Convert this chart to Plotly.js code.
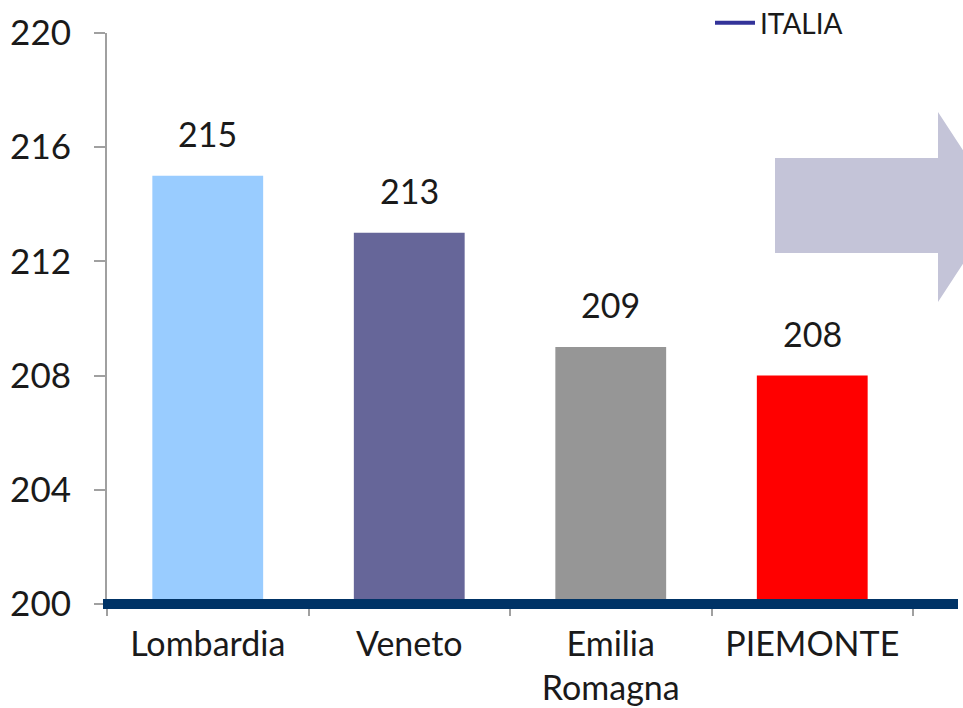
<!DOCTYPE html>
<html>
<head>
<meta charset="utf-8">
<script src="https://cdn.plot.ly/plotly-3.0.1.min.js"></script>
<style>html,body{margin:0;padding:0;background:#fff;}#chart{width:963px;height:708px;}</style>
</head>
<body>
<div id="chart"></div>
<script>
// ---- data ----
const regions = ["Lombardia", "Veneto", "Emilia<br>Romagna", "PIEMONTE"];
const values = [215, 213, 209, 208];
const barColors = ["#99ccff", "#666699", "#969696", "#ff0000"];
const italiaName = "ITALIA";
const italiaValue = 200;
const yRange = [200, 220];
const yTicks = [200, 204, 208, 212, 216, 220];

// ---- layout helpers (pixel -> paper) ----
const L = 107, R = 50, T = 33, B = 104, W = 963, H = 708;
const pw = W - L - R, ph = H - T - B;
const px = x => (x - L) / pw;
const py = y => (H - B - y) / ph;

const FONT = "Lato, 'DejaVu Sans', sans-serif";

const barTrace = {
  type: "bar",
  x: regions,
  y: values.map(v => v - yRange[0]),
  base: yRange[0],
  marker: {color: barColors, line: {width: 0}},
  showlegend: false,
  hoverinfo: "skip"
};

const italiaTrace = {
  type: "scatter",
  mode: "lines",
  name: italiaName,
  x: regions,
  y: regions.map(() => italiaValue),
  line: {color: "#333399", width: 4},
  showlegend: true,
  hoverinfo: "skip"
};

const annotations = regions.map((r, i) => ({
  x: r, y: values[i], xref: "x", yref: "y",
  text: String(values[i]), showarrow: false,
  yanchor: "bottom", yshift: 20,
  font: {family: FONT, size: 34, color: "#1a1a1a"}
}));

// arrow polygon (decorative)
const ax0 = px(775), ax1 = px(938), axTip = px(1000);
const ayT = py(158), ayB = py(253), ahT = py(112), ahB = py(302), ayM = py(207);
const arrowPath = `M ${ax0} ${ayT} L ${ax1} ${ayT} L ${ax1} ${ahT} L ${axTip} ${ayM} L ${ax1} ${ahB} L ${ax1} ${ayB} L ${ax0} ${ayB} Z`;

// ITALIA level expressed in the y axis domain (so the thick line is not clipped)
const italiaDomain = (italiaValue - yRange[0]) / (yRange[1] - yRange[0]);

const layout = {
  width: W, height: H,
  margin: {l: L, r: R, t: T, b: B, pad: 0, autoexpand: false},
  paper_bgcolor: "#ffffff",
  plot_bgcolor: "#ffffff",
  font: {family: FONT, size: 33, color: "#1a1a1a"},
  bargap: 0.45,
  showlegend: true,
  legend: {
    x: px(710), y: py(-2), xanchor: "left", yanchor: "top",
    bgcolor: "rgba(0,0,0,0)",
    font: {family: FONT, size: 28, color: "#1a1a1a"},
    itemwidth: 40
  },
  xaxis: {
    type: "category",
    tickson: "boundaries",
    ticks: "outside", ticklen: 11, tickcolor: "#a0a0a0", tickwidth: 2,
    showline: false, showgrid: false, zeroline: false,
    ticklabelstandoff: 17,
    tickfont: {family: FONT, size: 34, color: "#1a1a1a"},
    fixedrange: true
  },
  yaxis: {
    range: yRange,
    tickvals: yTicks,
    ticktext: yTicks.map(String),
    ticks: "outside", ticklen: 11, tickcolor: "#a0a0a0", tickwidth: 2,
    showline: true, linecolor: "#a0a0a0", linewidth: 2,
    showgrid: false, zeroline: false,
    ticklabelstandoff: 16,
    tickfont: {family: FONT, size: 35, color: "#1a1a1a"},
    fixedrange: true
  },
  annotations: annotations,
  shapes: [
    {type: "path", xref: "paper", yref: "paper", path: arrowPath,
     fillcolor: "#c4c4d8", line: {width: 0}, layer: "below"},
    {type: "line", xref: "paper", yref: "y domain", x0: px(103), x1: px(958),
     y0: italiaDomain, y1: italiaDomain,
     line: {color: "#003366", width: 10}, layer: "above"}
  ]
};

Plotly.newPlot("chart", [barTrace, italiaTrace], layout, {displayModeBar: false, staticPlot: true});
</script>
</body>
</html>
